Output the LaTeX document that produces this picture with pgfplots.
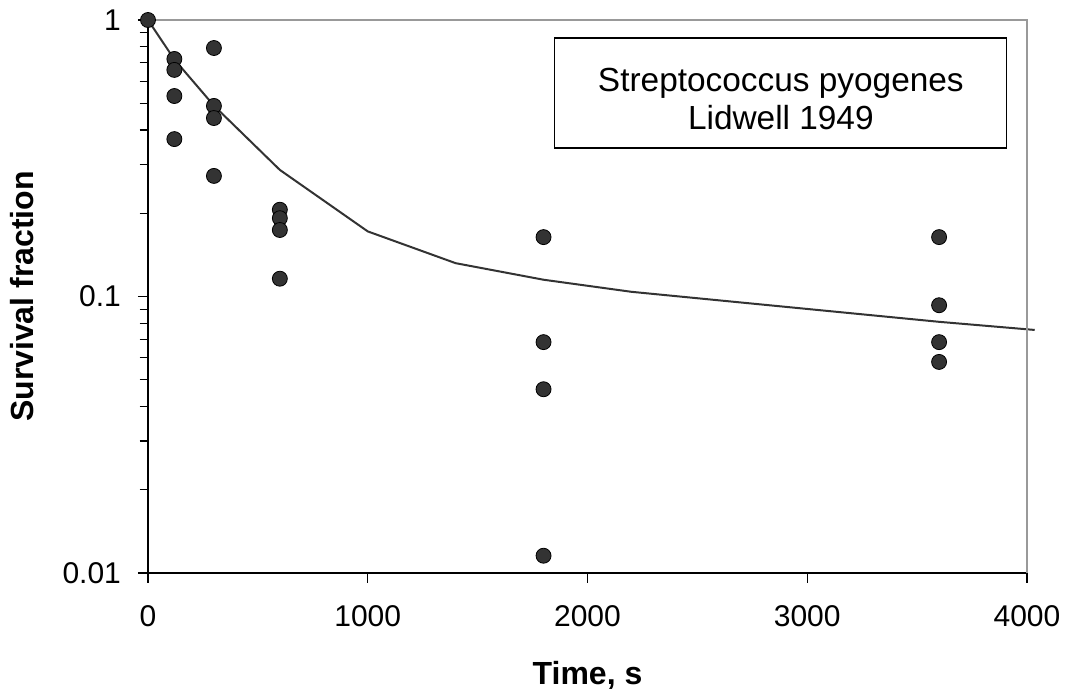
\documentclass[border=0pt]{standalone}
\usepackage{pgfplots}
\pgfplotsset{compat=1.18}
\usepackage{fontspec}
\setmainfont{Liberation Sans}
\definecolor{dots}{HTML}{333333}
\definecolor{frame}{HTML}{999999}
\begin{document}
\begin{tikzpicture}
\begin{axis}[
    scale only axis,
    width=439.5pt, height=276.5pt,
    ymode=log,
    xmin=0, xmax=4000,
    ymin=0.01, ymax=1,
    clip=false,
    axis x line*=bottom,
    axis y line*=left,
    axis line style={-, black, line width=0.8pt},
    tick align=outside,
    major tick length=5pt,
    minor tick length=4.2pt,
    tick style={black, line width=0.6pt},
    xtick={0,1000,2000,3000,4000},
    xticklabels={0,1000,2000,3000,4000},
    ytick={0.01,0.1,1},
    yticklabels={0.01,0.1,1},
    font=\fontsize{15}{18}\selectfont,
    xticklabel style={yshift=-8pt},
    yticklabel style={xshift=-5pt},
    xlabel={Time, s},
    ylabel={Survival fraction},
    label style={font=\fontsize{16}{19}\selectfont\bfseries},
    xlabel style={at={(axis description cs:0.5,0)}, anchor=center, yshift=-51pt},
    ylabel style={at={(axis description cs:0,0.5)}, anchor=center, yshift=63pt},
]
% fitted curve
\addplot[no marks, color=dots, line width=1pt] coordinates {
    (0,1) (120,0.72) (300,0.49) (600,0.287) (1000,0.172) (1400,0.132)
    (1800,0.115) (2200,0.104) (3600,0.081) (4035,0.0757)
};
% measurements
\addplot[only marks, mark=*, mark size=3.75pt, mark options={fill=dots, draw=none}] coordinates {
    (0,1)
    (120,0.723) (120,0.66) (120,0.531) (120,0.371)
    (300,0.792) (300,0.489) (300,0.442) (300,0.273)
    (600,0.206) (600,0.192) (600,0.174) (600,0.116)
    (1800,0.164) (1800,0.0684) (1800,0.0462) (1800,0.01155)
    (3600,0.164) (3600,0.093) (3600,0.0684) (3600,0.058)
};
\draw[frame, line width=1pt] (rel axis cs:0,1) -- (rel axis cs:1,1) -- (rel axis cs:1,0);
% text box
\node[draw=black, line width=0.6pt, minimum width=226pt, minimum height=55pt]
    at (rel axis cs:0.72,0.868) {};
\node[align=center, font=\fontsize{16.7}{19}\selectfont, yshift=-3pt]
    at (rel axis cs:0.72,0.868) {Streptococcus pyogenes\\Lidwell 1949};
\end{axis}
\pgfresetboundingbox
\path[use as bounding box] (-74pt,-59.5pt) rectangle (458.5pt,286.5pt);
\end{tikzpicture}
\end{document}
